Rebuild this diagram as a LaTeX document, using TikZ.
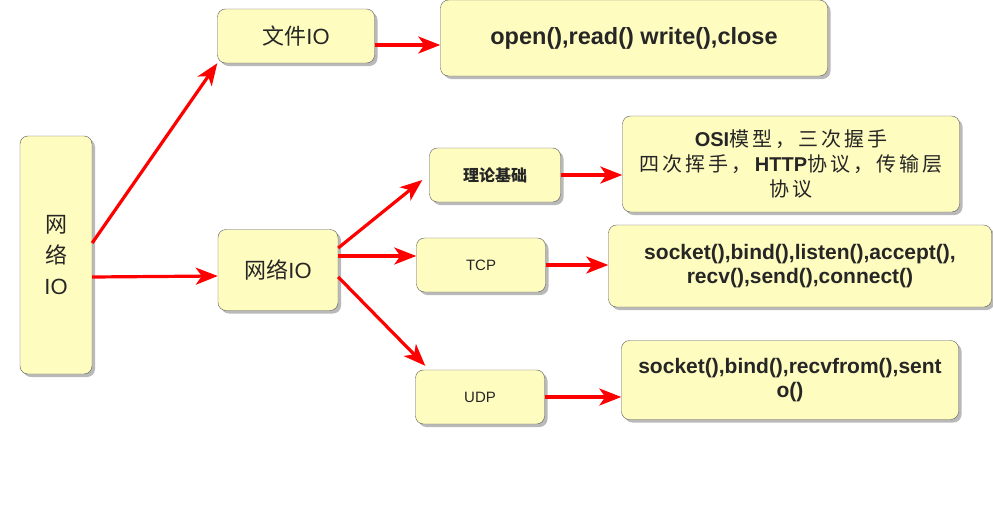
\documentclass[tikz,border=0pt]{standalone}
\usepackage{fontspec}
\setmainfont{Liberation Sans}
\newfontfamily\cjk{Noto Sans CJK SC}
\newfontfamily\cjkwide[LetterSpace=15]{Noto Sans CJK SC}
\usetikzlibrary{arrows.meta,shadows}

\begin{document}
\begin{tikzpicture}[x=1pt,y=-1pt,
 box/.style={draw=black!65,fill=yellow!25,rounded corners=8pt,align=center,text=black!85,
  drop shadow={shadow xshift=3pt,shadow yshift=-3pt,opacity=0.55}},
 link/.style={red,line width=3.2pt,-{Stealth[length=22pt,width=17pt,inset=6pt]}}]
\useasboundingbox (0,0) rectangle (993,525);
% boxes
\node[box,minimum width=72pt,minimum height=238pt,font=\fontsize{22}{31}\selectfont](net) at (56,255){{\cjk 网}\\{\cjk 络}\\IO};
\node[box,minimum width=157pt,minimum height=54pt,font=\fontsize{22}{26}\selectfont](file) at (296,36){{\cjk 文件}IO};
\node[box,minimum width=387pt,minimum height=76pt,font=\bfseries\fontsize{23.5}{26}\selectfont](open) at (634,38){open(),read() write(),close};
\node[box,minimum width=120pt,minimum height=81pt,font=\fontsize{22}{26}\selectfont](mid) at (278,270){{\cjk 网络}IO};
\node[box,minimum width=131pt,minimum height=54pt,font=\fontsize{16}{20}\selectfont](theory) at (495,175){\cjk\bfseries 理论基础};
\node[box,minimum width=337pt,minimum height=96pt,font=\fontsize{20}{25}\selectfont](osi) at (791,164){\textbf{OSI}{\cjkwide 模型，三次握手}\\{\cjkwide 四次挥手，}\textbf{HTTP}{\cjkwide 协议，传输层}\\{\cjkwide 协议}};
\node[box,minimum width=129pt,minimum height=54pt,font=\fontsize{15}{18}\selectfont](tcp) at (481,265){TCP};
\node[box,minimum width=383pt,minimum height=82pt,font=\bfseries\fontsize{21}{24}\selectfont](sock) at (800,266){socket(),bind(),listen(),accept(),\\recv(),send(),connect()};
\node[box,minimum width=129pt,minimum height=54pt,font=\fontsize{15}{18}\selectfont](udp) at (480,397){UDP};
\node[box,minimum width=337pt,minimum height=79pt,font=\bfseries\fontsize{21}{24}\selectfont](usock) at (790,380){socket(),bind(),recvfrom(),sent\\o()};
% arrows
\draw[link]([yshift=12pt]net.east)--(file.south west);
\draw[link]([yshift=-22pt]net.east)--([yshift=-6pt]mid.west);
\draw[link]([yshift=-9pt]file.east)--([yshift=-7pt]open.west);
\draw[link]([yshift=22pt]mid.east)--([shift={(-7,5)}]theory.west);
\draw[link]([yshift=14pt]mid.east)--([yshift=9pt]tcp.west);
\draw[link]([yshift=-7pt]mid.east)--([shift={(10,-4)}]udp.north west);
\draw[link](theory.east)--(theory.east -| osi.west);
\draw[link](tcp.east)--(tcp.east -| sock.west);
\draw[link](udp.east)--(udp.east -| usock.west);
\end{tikzpicture}
\end{document}
